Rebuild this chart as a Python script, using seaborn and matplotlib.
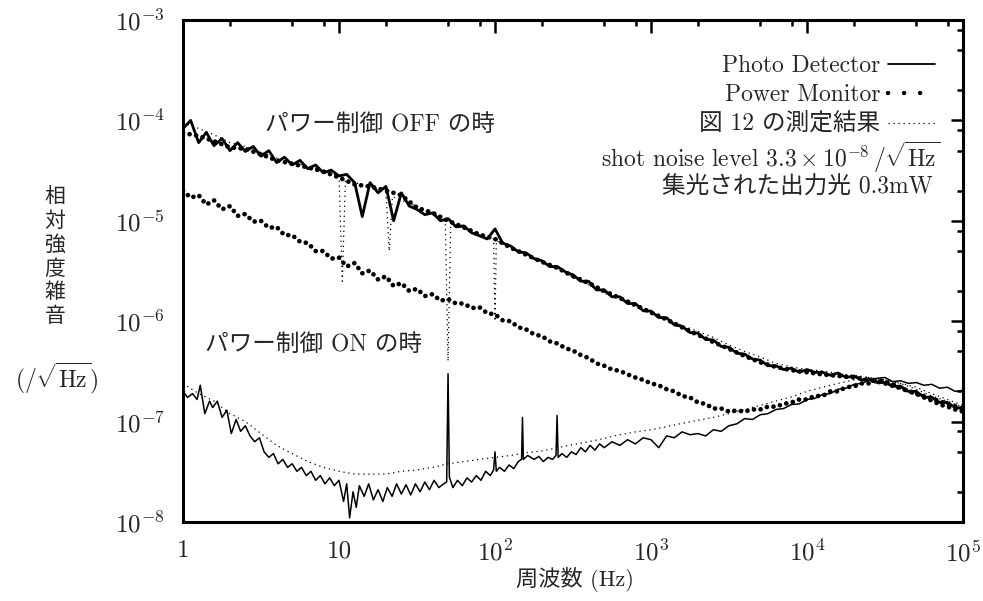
import matplotlib
matplotlib.use("Agg")
import matplotlib.pyplot as plt
from matplotlib.lines import Line2D
from matplotlib.ticker import FixedLocator, FixedFormatter, LogLocator, NullFormatter
import pandas as pd
import seaborn as sns

# ---------------- data ----------------
freq = [1, 1.12, 1.26, 1.41, 1.58, 1.78, 2.0, 2.24, 2.51, 2.82,
        3.16, 3.55, 3.98, 4.47, 5.01, 5.62, 6.31, 7.08, 7.94, 8.91,
        10, 11.2, 12.6, 14.1, 15.8, 17.8, 20.0, 22.4, 25.1, 28.2,
        31.6, 35.5, 39.8, 44.7, 50.1, 56.2, 63.1, 70.8, 79.4, 89.1,
        100, 112, 126, 141, 158, 178, 200, 224, 251, 282,
        316, 355, 398, 447, 501, 562, 631, 708, 794, 891,
        1000, 1120, 1260, 1410, 1580, 1780, 2000, 2240, 2510, 2820,
        3160, 3550, 3980, 4470, 5010, 5620, 6310, 7080, 7940, 8910,
        1e4, 1.12e4, 1.26e4, 1.41e4, 1.58e4, 1.78e4, 2.0e4, 2.24e4, 2.51e4, 2.82e4,
        3.16e4, 3.55e4, 3.98e4, 4.47e4, 5.01e4, 5.62e4, 6.31e4, 7.08e4, 7.94e4, 8.91e4,
        1e5]

freq_coarse = [1, 1.26, 1.58, 2.0, 2.51, 3.16, 3.98, 5.01, 6.31, 7.94,
               10, 12.6, 15.8, 20.0, 25.1, 31.6, 39.8, 50.1, 63.1, 79.4,
               100, 126, 158, 200, 251, 316, 398, 501, 631, 794,
               1000, 1260, 1580, 2000, 2510, 3160, 3980, 5010, 6310, 7940,
               1e4, 1.26e4, 1.58e4, 2.0e4, 2.51e4, 3.16e4, 3.98e4, 5.01e4, 6.31e4, 7.94e4,
               1e5]

# power control OFF, Photo Detector (solid)
pd_off = [8.3e-5, 1.0e-4, 6.0e-5, 7.6e-5, 5.6e-5, 6.6e-5, 5.0e-5, 6.0e-5, 4.9e-5, 5.5e-5,
          4.4e-5, 5.0e-5, 3.8e-5, 4.3e-5, 3.6e-5, 4.0e-5, 3.3e-5, 3.6e-5, 3.0e-5, 3.2e-5,
          2.8e-5, 2.9e-5, 2.4e-5, 1.1e-5, 2.4e-5, 1.9e-5, 2.2e-5, 1.0e-5, 1.9e-5, 1.4e-5,
          1.3e-5, 1.15e-5, 1.2e-5, 1.0e-5, 1.05e-5, 8.7e-6, 8.9e-6, 7.6e-6, 7.1e-6, 6.6e-6,
          8.3e-6, 6.0e-6, 5.6e-6, 4.9e-6, 4.8e-6, 4.2e-6, 4.0e-6, 3.5e-6, 3.5e-6, 3.1e-6,
          2.9e-6, 2.5e-6, 2.5e-6, 2.05e-6, 2.05e-6, 1.75e-6, 1.75e-6, 1.5e-6, 1.5e-6, 1.27e-6,
          1.26e-6, 1.09e-6, 1.08e-6, 9.2e-7, 8.9e-7, 7.7e-7, 7.6e-7, 6.6e-7, 6.5e-7, 5.6e-7,
          5.5e-7, 4.8e-7, 4.7e-7, 4.2e-7, 4.1e-7, 3.6e-7, 3.6e-7, 3.3e-7, 3.4e-7, 3.1e-7,
          3.3e-7, 3.1e-7, 3.1e-7, 2.9e-7, 3.05e-7, 2.75e-7, 2.85e-7, 2.6e-7, 2.65e-7, 2.45e-7,
          2.45e-7, 2.25e-7, 2.25e-7, 2.0e-7, 2.0e-7, 1.75e-7, 1.75e-7, 1.55e-7, 1.55e-7, 1.38e-7,
          1.35e-7]

# power control OFF, Power Monitor (dots)
pm_off = [7.5e-5, 7.0e-5, 6.2e-5, 5.4e-5, 5.2e-5, 4.6e-5, 4.0e-5, 3.7e-5, 3.4e-5, 3.1e-5,
          2.7e-5, 2.3e-5, 2.2e-5, 2.0e-5, 1.8e-5, 1.35e-5, 1.2e-5, 1.0e-5, 8.6e-6, 7.3e-6,
          6.6e-6, 5.4e-6, 4.6e-6, 3.9e-6, 3.4e-6, 2.8e-6, 2.4e-6, 2.0e-6, 1.7e-6, 1.45e-6,
          1.22e-6, 1.04e-6, 8.7e-7, 7.3e-7, 6.2e-7, 5.3e-7, 4.5e-7, 3.9e-7, 3.5e-7, 3.25e-7,
          3.1e-7, 2.95e-7, 2.85e-7, 2.75e-7, 2.6e-7, 2.4e-7, 2.15e-7, 1.9e-7, 1.7e-7, 1.5e-7,
          1.35e-7]

# power control ON, Power Monitor (dots)
pm_on = [2.0e-5, 1.7e-5, 1.8e-5, 1.45e-5, 1.6e-5, 1.3e-5, 1.4e-5, 1.12e-5, 1.17e-5, 9.8e-6,
         1.0e-5, 8.5e-6, 8.7e-6, 7.2e-6, 7.2e-6, 6.2e-6, 6.0e-6, 5.0e-6, 5.0e-6, 4.2e-6,
         4.3e-6, 3.5e-6, 3.8e-6, 3.0e-6, 3.2e-6, 2.6e-6, 2.8e-6, 2.24e-6, 2.4e-6, 2.0e-6,
         2.1e-6, 1.78e-6, 1.86e-6, 1.6e-6, 1.66e-6, 1.5e-6, 1.5e-6, 1.35e-6, 1.38e-6, 1.2e-6,
         1.17e-6, 1.02e-6, 1.0e-6, 8.7e-7, 8.3e-7, 7.4e-7, 7.1e-7, 6.3e-7, 6.0e-7, 5.4e-7,
         5.1e-7, 4.6e-7, 4.3e-7, 3.8e-7, 3.6e-7, 3.3e-7, 3.2e-7, 2.95e-7, 2.75e-7, 2.6e-7,
         2.4e-7, 2.3e-7, 2.1e-7, 2.0e-7, 1.8e-7, 1.74e-7, 1.55e-7, 1.5e-7, 1.35e-7, 1.35e-7,
         1.26e-7, 1.29e-7, 1.26e-7, 1.32e-7, 1.32e-7, 1.41e-7, 1.41e-7, 1.5e-7, 1.55e-7, 1.66e-7,
         1.66e-7, 1.8e-7, 1.8e-7, 2.0e-7, 2.0e-7, 2.2e-7, 2.24e-7, 2.4e-7, 2.4e-7, 2.6e-7,
         2.5e-7, 2.35e-7, 2.2e-7, 2.0e-7, 1.9e-7, 1.74e-7, 1.62e-7, 1.48e-7, 1.41e-7, 1.32e-7,
         1.26e-7]

# power control ON, Photo Detector (thin solid)
pd_on_freq = [1.0, 1.07, 1.15, 1.23, 1.29, 1.38, 1.48, 1.55, 1.66, 1.78,
              1.91, 2.04, 2.19, 2.34, 2.51, 2.69, 2.88, 3.09, 3.31, 3.55,
              3.80, 4.07, 4.37, 4.68, 5.01, 5.37, 5.75, 6.17, 6.61, 7.08,
              7.59, 8.13, 8.71, 9.33, 10.0, 10.7, 11.2, 11.7, 12.3, 12.9,
              13.5, 14.5, 15.5, 16.6, 17.8, 19.1, 20.4, 21.9, 23.4, 25.1,
              26.9, 28.8, 30.9, 33.1, 35.5, 38.0, 40.7, 43.7, 46.8, 49.0,
              50.0, 51.0, 53.7, 57.5, 61.7, 66.1, 70.8, 75.9, 81.3, 87.1,
              93.3, 98.0, 100, 102, 107, 115, 123, 132, 141, 148,
              150, 152, 162, 178, 191, 204, 219, 234, 246, 250,
              254, 269, 288, 309, 331, 355, 380, 407, 437, 468,
              501, 562, 631, 708, 794, 891, 1000, 1120, 1260, 1410,
              1580, 1780, 2000, 2240, 2510, 2820, 3160, 3550, 3980, 4470,
              5010, 5620, 6310, 7080, 7940, 8910, 1.0e4, 1.12e4, 1.26e4, 1.41e4,
              1.58e4, 1.78e4, 2.0e4, 2.24e4, 2.51e4, 2.82e4, 3.16e4, 3.55e4, 3.98e4, 4.47e4,
              5.01e4, 5.62e4, 6.31e4, 7.08e4, 7.94e4, 8.91e4, 1.0e5]
pd_on = [2.0e-7, 1.74e-7, 1.9e-7, 1.66e-7, 2.3e-7, 1.2e-7, 1.6e-7, 1.38e-7, 1.6e-7, 1.1e-7,
         1.3e-7, 7.6e-8, 1.05e-7, 8.0e-8, 9.1e-8, 7.2e-8, 6.3e-8, 6.9e-8, 5.0e-8, 4.4e-8,
         4.8e-8, 3.8e-8, 4.2e-8, 3.5e-8, 3.8e-8, 3.2e-8, 3.5e-8, 2.9e-8, 3.2e-8, 2.6e-8,
         2.9e-8, 2.4e-8, 2.75e-8, 2.3e-8, 2.6e-8, 1.6e-8, 2.4e-8, 1.1e-8, 2.0e-8, 1.4e-8,
         2.3e-8, 1.8e-8, 2.4e-8, 1.66e-8, 2.1e-8, 1.6e-8, 2.2e-8, 1.8e-8, 2.4e-8, 1.9e-8,
         2.35e-8, 1.86e-8, 2.4e-8, 2.0e-8, 2.5e-8, 2.1e-8, 2.6e-8, 2.2e-8, 2.4e-8, 2.5e-8,
         3.0e-7, 2.8e-8, 2.2e-8, 2.6e-8, 2.3e-8, 2.75e-8, 2.5e-8, 2.9e-8, 2.6e-8, 3.2e-8,
         2.9e-8, 3.3e-8, 5.0e-8, 3.2e-8, 3.5e-8, 3.2e-8, 3.7e-8, 3.4e-8, 4.0e-8, 4.2e-8,
         1.1e-7, 4.2e-8, 4.6e-8, 4.2e-8, 4.5e-8, 4.0e-8, 4.4e-8, 4.2e-8, 4.6e-8, 1.15e-7,
         4.4e-8, 4.8e-8, 4.4e-8, 5.0e-8, 4.7e-8, 5.5e-8, 5.0e-8, 5.8e-8, 5.2e-8, 6.0e-8,
         5.5e-8, 6.3e-8, 5.8e-8, 6.6e-8, 6.0e-8, 6.9e-8, 6.6e-8, 5.5e-8, 7.2e-8, 6.9e-8,
         7.9e-8, 7.4e-8, 7.6e-8, 7.2e-8, 8.3e-8, 8.0e-8, 9.1e-8, 9.5e-8, 1.07e-7, 1.05e-7,
         1.17e-7, 1.2e-7, 1.32e-7, 1.35e-7, 1.48e-7, 1.5e-7, 1.66e-7, 1.7e-7, 1.86e-7, 1.9e-7,
         2.1e-7, 2.15e-7, 2.35e-7, 2.4e-7, 2.6e-7, 2.7e-7, 2.75e-7, 2.5e-7, 2.55e-7, 2.4e-7,
         2.45e-7, 2.3e-7, 2.35e-7, 2.15e-7, 2.2e-7, 2.0e-7, 2.05e-7]

# "図12" earlier measurement (fine dots): OFF and ON
fig12_off_freq = [1.0, 1.26, 1.58, 2.0, 2.51, 3.16, 3.98, 5.01, 6.31, 7.94,
                  10.0, 10.5, 11.0, 12.6, 15.8, 20.0, 21.0, 22.0, 25.1, 31.6,
                  39.8, 48.0, 50.0, 52.0, 63.1, 79.4, 98.0, 100, 102, 126,
                  158, 200, 251, 316, 398, 501, 631, 794, 1000, 1260,
                  1580, 2000, 2510, 3160, 3980, 5010, 6310, 7940, 1.0e4, 1.26e4,
                  1.58e4, 2.0e4, 2.51e4, 3.16e4, 3.98e4, 5.01e4, 6.31e4, 7.94e4, 1.0e5]
fig12_off = [9.5e-5, 8.3e-5, 7.2e-5, 6.0e-5, 5.5e-5, 4.8e-5, 4.2e-5, 3.8e-5, 3.5e-5, 3.2e-5,
             2.8e-5, 2.5e-6, 2.6e-5, 2.4e-5, 2.2e-5, 1.9e-5, 5.0e-6, 1.74e-5, 1.6e-5, 1.4e-5,
             1.15e-5, 1.0e-5, 4.0e-7, 9.5e-6, 8.3e-6, 7.2e-6, 6.6e-6, 1.0e-6, 6.3e-6, 5.5e-6,
             4.6e-6, 4.0e-6, 3.3e-6, 2.75e-6, 2.3e-6, 1.9e-6, 1.66e-6, 1.38e-6, 1.2e-6, 1.05e-6,
             9.1e-7, 7.9e-7, 6.9e-7, 5.8e-7, 5.0e-7, 4.4e-7, 3.8e-7, 3.5e-7, 3.3e-7, 3.2e-7,
             3.0e-7, 2.9e-7, 2.75e-7, 2.6e-7, 2.4e-7, 2.2e-7, 1.9e-7, 1.66e-7, 1.45e-7]
fig12_on = [2.4e-7, 1.9e-7, 1.6e-7, 1.2e-7, 1.0e-7, 7.6e-8, 5.8e-8, 4.8e-8, 4.0e-8, 3.5e-8,
            3.2e-8, 3.0e-8, 3.0e-8, 3.0e-8, 3.2e-8, 3.3e-8, 3.5e-8, 3.8e-8, 4.0e-8, 4.2e-8,
            4.4e-8, 4.6e-8, 4.9e-8, 5.1e-8, 5.5e-8, 5.9e-8, 6.3e-8, 6.8e-8, 7.4e-8, 7.9e-8,
            8.3e-8, 8.9e-8, 9.6e-8, 1.03e-7, 1.1e-7, 1.2e-7, 1.32e-7, 1.45e-7, 1.6e-7, 1.76e-7,
            2.0e-7, 2.2e-7, 2.4e-7, 2.6e-7, 2.75e-7, 2.6e-7, 2.4e-7, 2.1e-7, 1.8e-7, 1.6e-7,
            1.38e-7]

x_ticks = [1, 10, 100, 1000, 1e4, 1e5]
x_tick_labels = ["1", "10", "$10^2$", "$10^3$", "$10^4$", "$10^5$"]
y_ticks = [1e-8, 1e-7, 1e-6, 1e-5, 1e-4, 1e-3]
y_tick_labels = ["$10^{-8}$", "$10^{-7}$", "$10^{-6}$", "$10^{-5}$", "$10^{-4}$", "$10^{-3}$"]
legend_labels = ["Photo Detector", "Power Monitor", "図 12 の測定結果"]

# ---------------- style ----------------
sns.set_theme(style="white")
plt.rcParams["font.family"] = ["cmr10", "Noto Sans CJK JP", "DejaVu Sans"]
plt.rcParams["mathtext.fontset"] = "cm"
plt.rcParams["axes.unicode_minus"] = False
plt.rcParams["axes.formatter.use_mathtext"] = True

fig = plt.figure(figsize=(9.83, 6.01), dpi=100)
ax = fig.add_axes([183 / 983, 79 / 601, 780 / 983, 502 / 601])
ax.set_xscale("log")
ax.set_yscale("log")

DOTS_BIG = dict(linestyle=(0, (0.01, 1.4)), dash_capstyle="round")
DOTS_FINE = dict(linestyle=(0, (1, 3)))

def draw(fx, fy, **kw):
    df = pd.DataFrame({"f": fx, "v": fy})
    sns.lineplot(data=df, x="f", y="v", ax=ax, estimator=None, sort=False,
                 color="black", legend=False, **kw)

draw(fig12_off_freq, fig12_off, lw=0.9, **DOTS_FINE)
draw(freq_coarse, fig12_on, lw=0.9, **DOTS_FINE)
draw(freq, pd_off, lw=2.0)
draw(freq_coarse, pm_off, lw=3.4, **DOTS_BIG)
draw(freq, pm_on, lw=3.4, **DOTS_BIG)
draw(pd_on_freq, pd_on, lw=1.1)

ax.set_xlim(1, 1e5)
ax.set_ylim(1e-8, 1e-3)
ax.set_xlabel("")
ax.set_ylabel("")

ax.xaxis.set_major_locator(FixedLocator(x_ticks))
ax.xaxis.set_major_formatter(FixedFormatter(x_tick_labels))
ax.yaxis.set_major_locator(FixedLocator(y_ticks))
ax.yaxis.set_major_formatter(FixedFormatter(y_tick_labels))
ax.xaxis.set_minor_locator(LogLocator(base=10, subs=[2, 5, 8]))
ax.yaxis.set_minor_locator(LogLocator(base=10, subs=[2, 5, 8]))
ax.xaxis.set_minor_formatter(NullFormatter())
ax.yaxis.set_minor_formatter(NullFormatter())
ax.tick_params(which="both", direction="in", top=True, right=True, color="black")
ax.tick_params(which="major", length=9, width=1.8, labelsize=18, pad=13)
ax.tick_params(which="minor", length=4.5, width=1.8)
for s in ax.spines.values():
    s.set_linewidth(2.2)
    s.set_color("black")

# legend
handles = [Line2D([], [], color="black", lw=1.3),
           Line2D([], [], color="black", lw=3.2, linestyle=(0, (0.01, 3.6)), dash_capstyle="round"),
           Line2D([], [], color="black", lw=0.9, linestyle=(0, (1, 3)))]
ax.legend(handles, legend_labels, loc="upper right", bbox_to_anchor=(0.964, 0.93),
          frameon=False, markerfirst=False, fontsize=17, handlelength=2.0,
          handletextpad=0.3, labelspacing=0.3, borderpad=0, borderaxespad=0)
ax.text(0.9705, 0.727, r"shot noise level $3.3\times10^{-8}\,/\sqrt{\mathrm{Hz}}$",
        transform=ax.transAxes, ha="right", va="center", fontsize=17)
ax.text(0.9615, 0.667, "集光された出力光 0.3mW", transform=ax.transAxes,
        ha="right", va="center", fontsize=17)

ax.text(0.105, 0.791, "パワー制御 OFF の時", transform=ax.transAxes,
        ha="left", va="center", fontsize=17)
ax.text(0.028, 0.353, "パワー制御 ON の時", transform=ax.transAxes,
        ha="left", va="center", fontsize=17)

# axis labels
fig.text(575 / 983, 1 - 580 / 601, "周波数 (Hz)", ha="center", va="center", fontsize=16)
fig.text(55 / 983, 1 - 257 / 601, "相\n対\n強\n度\n雑\n音", ha="center", va="center",
         fontsize=15, linespacing=1.27)
fig.text(57 / 983, 1 - 378 / 601, r"$(/\sqrt{\mathrm{Hz}})$", ha="center", va="center",
         fontsize=17)

fig.savefig("out.png", dpi=100)
